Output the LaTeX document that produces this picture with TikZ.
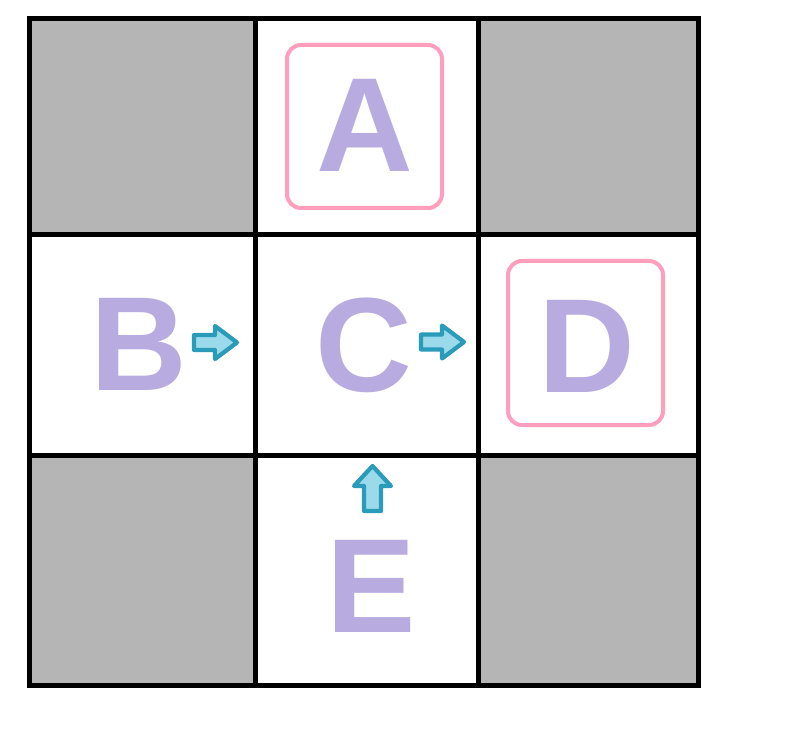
\documentclass[tikz,border=0pt]{standalone}
\usepackage{fontspec}
\setmainfont{Liberation Sans}
\definecolor{cellgray}{HTML}{B5B5B5}
\definecolor{letterpurple}{HTML}{B8ABDF}
\definecolor{boxpink}{HTML}{FF9EBD}
\definecolor{arrowteal}{HTML}{2A9BB8}
\definecolor{arrowfill}{HTML}{9ADAEA}
\begin{document}
\begin{tikzpicture}[x=1pt,y=-1pt,
  gridline/.style={line width=5pt,line cap=rect},
  graycell/.style={fill=cellgray},
  letter/.style={text=letterpurple,inner sep=0pt,anchor=base,
    font=\bfseries\fontsize{134}{134}\selectfont},
  pinkbox/.style={draw=boxpink,line width=4pt,rounded corners=14pt},
  blockarrow/.style={draw=arrowteal,fill=arrowfill,line width=4.2pt,line join=round}]
\useasboundingbox (0,0) rectangle (793,730);
% gray cells
\fill[graycell] (29.5,18.5) rectangle (255,235);
\fill[graycell] (478.5,18.5) rectangle (698.5,235);
\fill[graycell] (29.5,455) rectangle (255,685);
\fill[graycell] (478.5,455) rectangle (698.5,685);
% grid
\draw[gridline] (29.5,18.5) rectangle (698.5,685);
\draw[gridline] (255,18.5) -- (255,685);
\draw[gridline] (478.5,18.5) -- (478.5,685);
\draw[gridline] (29.5,235) -- (698.5,235);
\draw[gridline] (29.5,455) -- (698.5,455);
% pink boxes
\draw[pinkbox] (287,45) rectangle (442,208);
\draw[pinkbox] (508,261) rectangle (663,425);
% letters
\node[letter] (A) at (365,172) {A};
\node[letter] (B) at (139,390) {B};
\node[letter] (C) at (364,391) {C};
\node[letter] (D) at (587,392) {D};
\node[letter] (E) at (371,632) {E};
% arrows
\draw[blockarrow,shift={(194,342.5)}] (0,-7.5) -- (21,-7.5) -- (21,-16.5) -- (43,0) -- (21,16.5) -- (21,7.5) -- (0,7.5) -- cycle;
\draw[blockarrow,shift={(421,342)}] (0,-7.5) -- (21,-7.5) -- (21,-16.5) -- (43,0) -- (21,16.5) -- (21,7.5) -- (0,7.5) -- cycle;
\draw[blockarrow,shift={(372.5,511)}] (-8.5,0) -- (-8.5,-25) -- (-18.5,-25) -- (0,-45) -- (18.5,-25) -- (8.5,-25) -- (8.5,0) -- cycle;
\end{tikzpicture}
\end{document}
